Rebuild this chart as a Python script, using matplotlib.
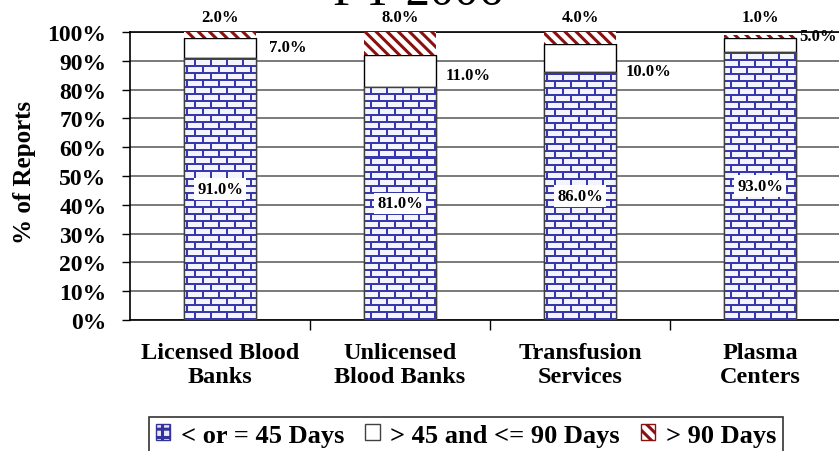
import numpy as np
import matplotlib
matplotlib.use("Agg")
import matplotlib.pyplot as plt
from matplotlib.patches import Patch

# data
categories = ["Licensed Blood\nBanks", "Unlicensed\nBlood Banks", "Transfusion\nServices", "Plasma\nCenters"]
le45 = [91.0, 81.0, 86.0, 93.0]
mid = [7.0, 11.0, 10.0, 5.0]
gt90 = [2.0, 8.0, 4.0, 1.0]
series_names = ["< or = 45 Days", "> 45 and <= 90 Days", "> 90 Days"]
yticks = list(range(0, 101, 10))
# where the middle-segment labels sit (height, gap right of bar)
mid_label_y = [94.8, 85, 86.5, 98.6]
mid_label_dx = [0.07, 0.055, 0.055, 0.017]

plt.rcParams['font.family'] = ['Liberation Serif', 'DejaVu Serif']
plt.rcParams['font.weight'] = 'bold'
plt.rcParams['hatch.linewidth'] = 2.2

W, H = 839, 452
fig = plt.figure(figsize=(W / 100, H / 100), dpi=100)
ax = fig.add_axes([130 / W, 1 - 321 / H, 720 / W, 288 / H])

x = np.arange(len(categories))
bw = 0.4
blue_edge = "#33339a"
red = "#8b1010"

b1 = ax.bar(x, le45, bw, facecolor="white", edgecolor="#404040", lw=1, zorder=3)
b2 = ax.bar(x, mid, bw, bottom=le45, facecolor="white", edgecolor="black", lw=1, zorder=3)
bot3 = [a + b for a, b in zip(le45, mid)]
b3 = ax.bar(x, gt90, bw, bottom=bot3, facecolor="white", edgecolor=red, hatch="\\\\\\", lw=0, zorder=3)

ax.set_xlim(-0.5, len(categories) - 0.5)
ax.set_ylim(0, 100)

# brick texture for the first series, clipped to each bar
tw, th = 720, 288
yy, xx = np.mgrid[0:th, 0:tw]
row = yy // 7
mortar = ((yy % 7) < 2) | (((xx + (row % 2) * 8) % 16) < 2)
tex = np.ones((th, tw, 3)) * np.array([0.96, 0.96, 1.0])
tex[mortar] = np.array([0.22, 0.22, 0.68])
for p in b1:
    im = ax.imshow(tex, extent=(-0.5, len(categories) - 0.5, 0, 100), origin="lower",
                   aspect="auto", interpolation="nearest", zorder=3.5)
    im.set_clip_path(p)
    ax.add_patch(plt.Rectangle(p.get_xy(), p.get_width(), p.get_height(), fill=False,
                               edgecolor="#404040", lw=1, zorder=4))

# labels
for i in range(len(categories)):
    ax.text(x[i], le45[i] / 2, f"{le45[i]:.1f}%", ha="center", va="center", fontsize=12,
            fontweight="bold", zorder=5, bbox=dict(facecolor="white", edgecolor="none", pad=2))
    ax.text(x[i] + bw / 2 + mid_label_dx[i], mid_label_y[i], f"{mid[i]:.1f}%", ha="left",
            va="center", fontsize=12, fontweight="bold", zorder=5)
    ax.text(x[i], 105.2, f"{gt90[i]:.1f}%", ha="center", va="center", fontsize=12,
            fontweight="bold", clip_on=False)

# grid and axes
ax.set_yticks(yticks)
ax.set_yticklabels([f"{v}%" for v in yticks], fontsize=17, fontweight="bold")
ax.yaxis.grid(True, color="#707070", lw=1.3, zorder=0)
ax.set_axisbelow(True)
ax.tick_params(axis="y", length=6, width=1, pad=11)
ax.set_xticks(x)
ax.set_xticklabels(categories, fontsize=17.5, fontweight="bold", linespacing=1.15)
ax.tick_params(axis="x", which="major", length=0, pad=16)
ax.set_xticks(x[:-1] + 0.5, minor=True)
ax.tick_params(axis="x", which="minor", length=7, width=1)
for s in ["left", "bottom", "top"]:
    ax.spines[s].set_color("black")
    ax.spines[s].set_linewidth(1.2)
ax.spines["right"].set_visible(False)
ax.set_ylabel("% of Reports", fontsize=18, fontweight="bold")
ax.yaxis.set_label_coords(-0.13, 0.515)

fig.text(418 / W, 1 - 5 / H, "FY 2006", ha="center", va="baseline", fontsize=35,
         fontweight="normal")

handles = [Patch(facecolor="#e8e8ff", edgecolor=blue_edge, hatch="++"),
           Patch(facecolor="white", edgecolor="#404040"),
           Patch(facecolor="white", edgecolor=red, hatch="\\\\\\")]
leg = fig.legend(handles, series_names, loc="upper center", bbox_to_anchor=(466 / W, 1 - 418 / H),
                 ncol=3, frameon=True, fancybox=False, edgecolor="black", borderaxespad=0,
                 handlelength=0.55, handleheight=0.55, handletextpad=0.4, columnspacing=0.8,
                 borderpad=0.25, prop={"weight": "bold", "size": 19})
leg.get_frame().set_linewidth(1.2)

fig.savefig("out.png", dpi=100)
